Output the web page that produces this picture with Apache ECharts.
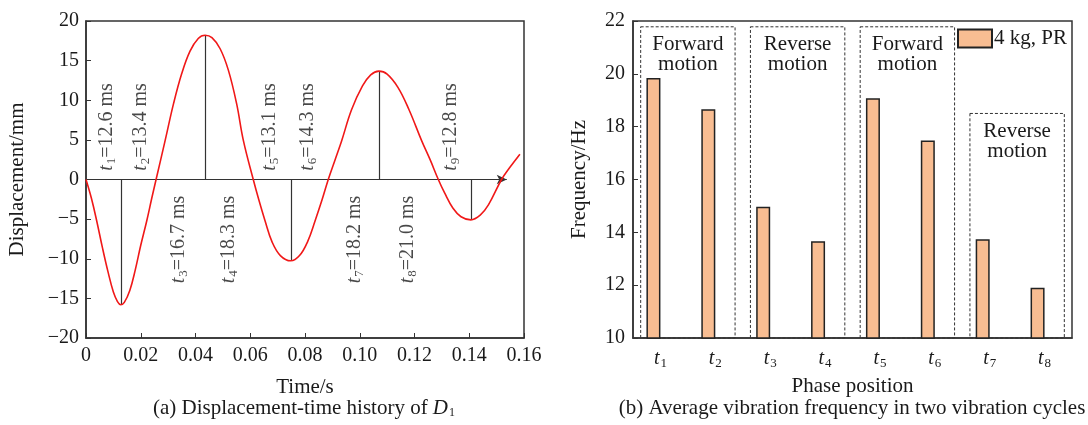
<!DOCTYPE html>
<html>
<head>
<meta charset="utf-8">
<script src="https://cdn.jsdelivr.net/npm/echarts@6/dist/echarts.min.js"></script>
<style>
html,body{margin:0;padding:0;background:#fff;}
#c{width:1088px;height:425px;}
</style>
</head>
<body>
<div id="c"></div>
<script>
// ---- Data: (a) displacement-time history ----
const curveT = [0, 0.002, 0.0039, 0.006, 0.008, 0.010, 0.0115, 0.0127,
  0.014, 0.016, 0.018, 0.020, 0.0222, 0.024, 0.0256,
  0.0289, 0.032, 0.035, 0.038, 0.041, 0.0435,
  0.046, 0.049, 0.052, 0.055, 0.0575, 0.0611,
  0.063, 0.0654, 0.068, 0.071, 0.0748,
  0.078, 0.081, 0.0837, 0.0862, 0.0885,
  0.091, 0.0934, 0.097, 0.101, 0.104, 0.107,
  0.110, 0.114, 0.118, 0.1226, 0.1257, 0.1287,
  0.131, 0.134, 0.137, 0.1406,
  0.144, 0.147, 0.1518, 0.155, 0.1585];
const curveD = [0, -2.4, -5.2, -8.6, -11.6, -14.2, -15.4, -15.8,
  -15.5, -14.0, -11.4, -8.3, -5.2, -2.4, 0,
  4.9, 9.6, 13.4, 16.2, 17.8, 18.2,
  17.9, 16.5, 13.8, 9.6, 4.9, 0,
  -2.4, -5.2, -7.9, -9.6, -10.26,
  -9.6, -7.8, -5.2, -2.6, 0,
  2.5, 4.9, 8.8, 11.8, 13.2, 13.67,
  13.3, 11.6, 8.8, 4.9, 2.5, 0,
  -1.7, -3.6, -4.7, -5.09,
  -4.5, -3.2, 0, 1.6, 3.2];
const extremeT = [0.0127, 0.0435, 0.0748, 0.107, 0.1406];
const extremeD = [-15.8, 18.2, -10.26, 13.67, -5.09];
const phaseDur = [12.6, 13.4, 16.7, 18.3, 13.1, 14.3, 18.2, 21.0, 12.8]; // ms
const arrowEnd = 0.1537;

// ---- Data: (b) average vibration frequency ----
const phases = ['t1', 't2', 't3', 't4', 't5', 't6', 't7', 't8'];
const freq = [19.84, 18.66, 14.97, 13.66, 19.08, 17.48, 13.74, 11.90];
const seriesName = '4 kg, PR';
const boxStart = [0, 2, 4, 6];
const boxEnd = [1, 3, 5, 7];
const boxTop = [21.78, 21.78, 21.78, 18.5];
const boxText = ['Forward\nmotion', 'Reverse\nmotion', 'Forward\nmotion', 'Reverse\nmotion'];

// ---- annotation anchors (layout, data coords) ----
const annX = [0.00756, 0.0201, 0.0340, 0.0522, 0.0672, 0.0811, 0.0983, 0.1176, 0.1333];
const annY = [1.1, 1.1, -13.1, -13.1, 1.1, 1.1, -13.1, -13.1, 1.1];

const FONT = "'Liberation Serif','Times New Roman',serif";
const TXT = '#1a1a1a';
const FS = 20;
const FN = 21;
const richSub = {
  i: {fontStyle: 'italic', fontSize: FS, fontFamily: FONT, color: TXT},
  s: {fontSize: 13, fontFamily: FONT, color: TXT, padding: [9, 0, 0, 1]},
  n: {fontSize: FS, fontFamily: FONT, color: TXT}
};
const minus = v => (v < 0 ? '\u2212' + Math.abs(v) : String(v));
const axisLineStyle = {color: '#333', width: 1.5};

const chart = echarts.init(document.getElementById('c'), null, {renderer: 'canvas'});
const option = {
  animation: false,
  backgroundColor: '#fff',
  textStyle: {fontFamily: FONT, color: TXT},
  grid: [
    {left: 86, top: 21, width: 438, height: 317, show: true, borderColor: '#333', borderWidth: 1.5, backgroundColor: 'transparent'},
    {left: 633, top: 21, width: 439, height: 317, show: true, borderColor: '#333', borderWidth: 1.5, backgroundColor: 'transparent'}
  ],
  legend: {
    data: [{name: seriesName, icon: 'rect'}], left: 957, top: 28, padding: 0,
    itemWidth: 34, itemHeight: 18, itemGap: 0,
    textStyle: {fontSize: FN, fontFamily: FONT, color: TXT, padding: [0, 0, 0, -3]}
  },
  xAxis: [
    {
      gridIndex: 0, type: 'value', min: 0, max: 0.16, interval: 0.02,
      name: 'Time/s', nameLocation: 'middle', nameGap: 39,
      nameTextStyle: {fontSize: FN, fontFamily: FONT, color: TXT},
      axisLine: {onZero: false, lineStyle: axisLineStyle},
      axisTick: {inside: true, length: 5, lineStyle: {color: '#333'}},
      splitLine: {show: false},
      axisLabel: {fontSize: FS, color: TXT, margin: 8, formatter: v => (v === 0 ? '0' : v.toFixed(2))}
    },
    {
      gridIndex: 1, type: 'category', data: phases,
      name: 'Phase position', nameLocation: 'middle', nameGap: 38,
      nameTextStyle: {fontSize: FN, fontFamily: FONT, color: TXT},
      axisLine: {lineStyle: axisLineStyle},
      axisTick: {show: false},
      axisLabel: {interval: 0, margin: 10, formatter: v => '{i|' + v[0] + '}{s|' + v.slice(1) + '}', rich: richSub}
    }
  ],
  yAxis: [
    {
      gridIndex: 0, type: 'value', min: -20, max: 20, interval: 5,
      name: 'Displacement/mm', nameLocation: 'middle', nameGap: 58,
      nameTextStyle: {fontSize: FN, fontFamily: FONT, color: TXT},
      axisLine: {show: true, lineStyle: axisLineStyle},
      axisTick: {show: true, inside: true, length: 5, lineStyle: {color: '#333'}},
      splitLine: {show: false},
      axisLabel: {fontSize: FS, color: TXT, margin: 7, formatter: minus}
    },
    {
      gridIndex: 1, type: 'value', min: 10, max: 22, interval: 2,
      name: 'Frequency/Hz', nameLocation: 'middle', nameGap: 43,
      nameTextStyle: {fontSize: FN, fontFamily: FONT, color: TXT},
      axisLine: {show: true, lineStyle: axisLineStyle},
      axisTick: {show: true, inside: true, length: 5, lineStyle: {color: '#333'}},
      splitLine: {show: false},
      axisLabel: {fontSize: FS, color: TXT, margin: 8}
    }
  ],
  series: [
    {
      type: 'line', xAxisIndex: 0, yAxisIndex: 0, name: 'curve',
      data: curveT.map((t, i) => [t, curveD[i]]),
      smooth: 0.4, showSymbol: false, symbol: 'none',
      lineStyle: {color: '#f01818', width: 1.6}, z: 5,
      markLine: {
        silent: true, symbol: ['none', 'none'], animation: false,
        label: {show: false},
        lineStyle: {color: '#333', width: 1.2, type: 'solid'},
        emphasis: {disabled: true},
        data: extremeT.map((t, i) => [{coord: [t, 0]}, {coord: [t, extremeD[i]]}])
          .concat([[{coord: [0, 0], symbol: 'none'}, {coord: [arrowEnd, 0], symbol: 'arrow', symbolSize: [7, 10]}]])
      }
    },
    {
      type: 'scatter', xAxisIndex: 0, yAxisIndex: 0, name: 'ann',
      symbolSize: 0, silent: true, z: 6,
      data: annX.map((x, i) => ({value: [x, annY[i]]})),
      label: {
        show: true, position: 'inside', rotate: 90, align: 'left', verticalAlign: 'middle',
        formatter: p => '{i|t}{s|' + (p.dataIndex + 1) + '}{n|=' + phaseDur[p.dataIndex].toFixed(1) + ' ms}',
        rich: richSub
      }
    },
    {
      type: 'bar', xAxisIndex: 1, yAxisIndex: 1, name: seriesName,
      data: freq, barWidth: 14, barGap: '0%',
      itemStyle: {color: '#f8bd92', borderColor: '#222', borderWidth: 1.5}
    },
    {
      type: 'bar', xAxisIndex: 1, yAxisIndex: 1, name: '_spacer',
      data: phases.map(() => '-'), barWidth: 14, barGap: '0%'
    },
    {
      type: 'custom', xAxisIndex: 1, yAxisIndex: 1, name: 'boxes', silent: true, z: 1,
      clip: false,
      encode: {x: [0, 1], y: 2},
      data: boxStart.map((s, i) => [s, boxEnd[i], boxTop[i]]),
      renderItem: (params, api) => {
        const band = api.size([1, 0])[0];
        const p0 = api.coord([api.value(0), api.value(2)]);
        const p1 = api.coord([api.value(1), 10]);
        const x0 = p0[0] - 0.36 * band, x1 = p1[0] + 0.36 * band;
        return {
          type: 'group',
          children: [
            {type: 'rect', shape: {x: x0, y: p0[1], width: x1 - x0, height: p1[1] - p0[1]},
             style: {fill: 'none', stroke: '#333', lineWidth: 1, lineDash: [3, 2]}},
            {type: 'text', style: {text: boxText[params.dataIndex], x: (x0 + x1) / 2, y: p0[1] + 8,
             align: 'center', verticalAlign: 'top', fontSize: FN, lineHeight: 20, fontFamily: FONT, fill: TXT}}
          ]
        };
      }
    }
  ],
  graphic: [
    {type: 'text', x: 304, y: 408,
     style: {text: '{n|(a) Displacement-time history of }{i|D}{s|1}', align: 'center', verticalAlign: 'middle',
      rich: {n: {fontSize: FN, fontFamily: FONT, fill: TXT}, i: {fontSize: FN, fontStyle: 'italic', fontFamily: FONT, fill: TXT}, s: {fontSize: 12, fontFamily: FONT, fill: TXT, padding: [9, 0, 0, 1]}}}},
    {type: 'text', x: 852, y: 408,
     style: {text: '(b) Average vibration frequency in two vibration cycles', align: 'center', verticalAlign: 'middle',
      fontSize: FN, fontFamily: FONT, fill: TXT}}
  ]
};
chart.setOption(option);
</script>
</body>
</html>
